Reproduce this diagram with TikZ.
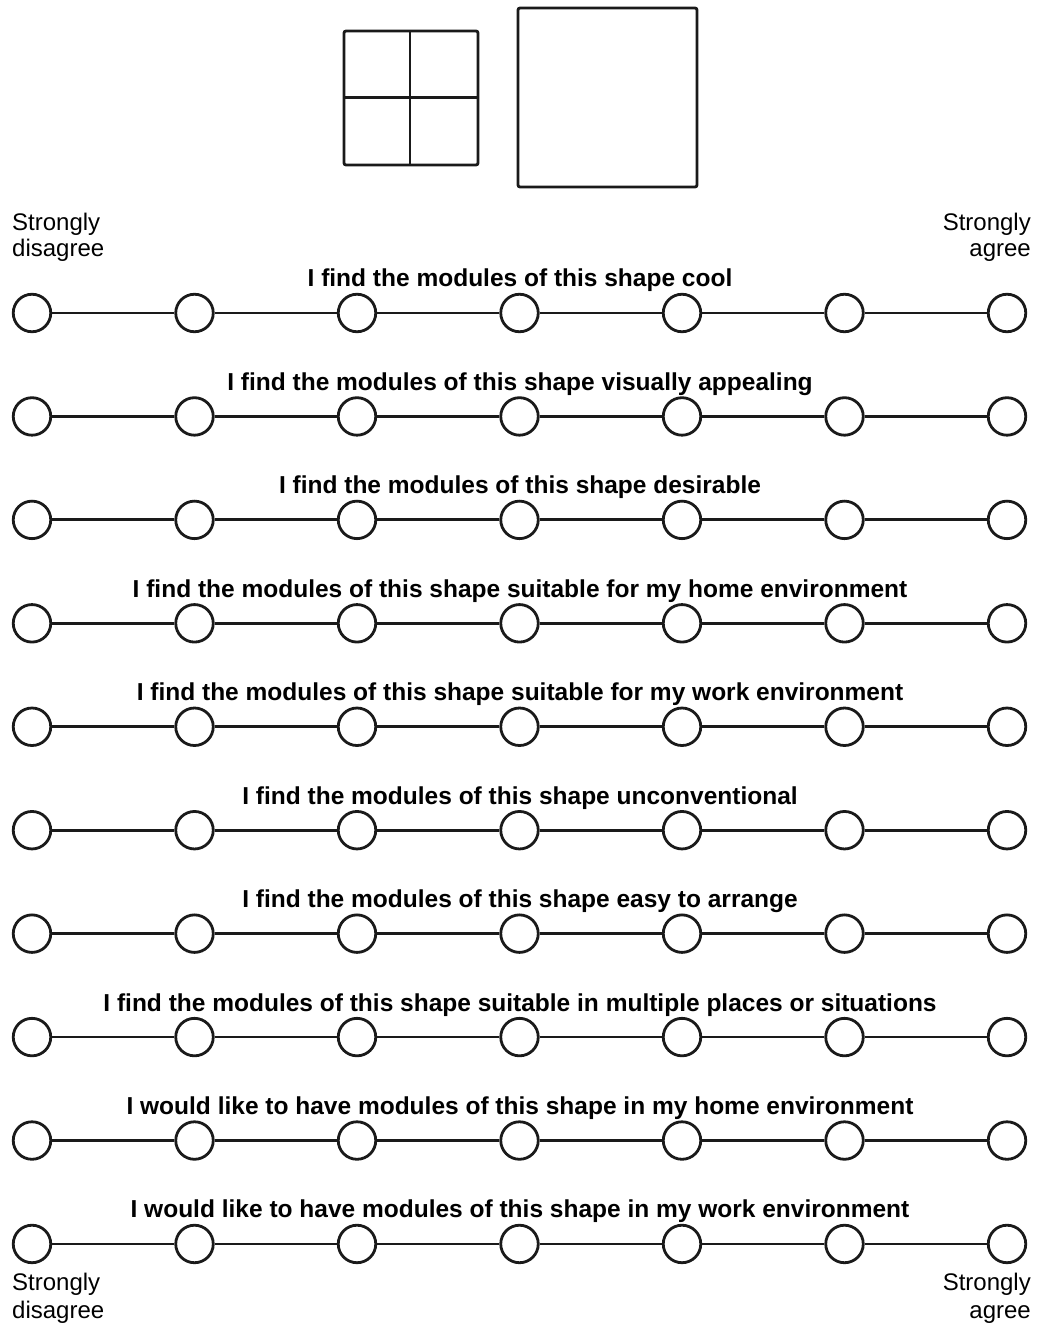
\documentclass[tikz,border=0pt]{standalone}
\usepackage{fontspec}
\setmainfont{Liberation Sans}
\definecolor{ink}{HTML}{1A1A1A}
\begin{document}
\begin{tikzpicture}[x=1pt,y=-1pt,
  dot/.style={circle,draw=ink,line width=2.8pt,minimum size=37.5pt,inner sep=0pt,fill=white},
  link/.style={draw=ink,line width=2.8pt},
  rowtitle/.style={font=\bfseries\fontsize{24.5}{28}\selectfont,anchor=base,inner sep=0pt},
  endlabel/.style={font=\fontsize{24}{28}\selectfont,inner sep=0pt},
  shapebox/.style={draw=ink,line width=2.8pt,rounded corners=2pt}]
\useasboundingbox[fill=white] (0,0) rectangle (1036,1324);
% shapes
\draw[shapebox] (344,31) rectangle (478,165);
\draw[shapebox] (410,31) -- (410,165);
\draw[shapebox] (344,97.5) -- (478,97.5);
\draw[shapebox] (518,8) rectangle (697,187);
% end labels
\node[endlabel,anchor=base west] (sdt1) at (12,231) {Strongly};
\node[endlabel,anchor=base west] (sdt2) at (12,257) {disagree};
\node[endlabel,anchor=base east] (sat1) at (1031,231) {Strongly};
\node[endlabel,anchor=base east] (sat2) at (1031,257) {agree};
\node[endlabel,anchor=base west] (sdb1) at (12,1290) {Strongly};
\node[endlabel,anchor=base west] (sdb2) at (12,1318) {disagree};
\node[endlabel,anchor=base east] (sab1) at (1031,1290) {Strongly};
\node[endlabel,anchor=base east] (sab2) at (1031,1318) {agree};
% rows
\foreach \t [count=\i] in {
  I find the modules of this shape cool,
  I find the modules of this shape visually appealing,
  I find the modules of this shape desirable,
  I find the modules of this shape suitable for my home environment,
  I find the modules of this shape suitable for my work environment,
  I find the modules of this shape unconventional,
  I find the modules of this shape easy to arrange,
  I find the modules of this shape suitable in multiple places or situations,
  I would like to have modules of this shape in my home environment,
  I would like to have modules of this shape in my work environment}{
  \pgfmathsetmacro\yy{313+103.44*(\i-1)}
  \foreach \j in {1,...,7}{
    \node[dot] (c-\i-\j) at ({32+162.5*(\j-1)},\yy) {};
  }
  \foreach \j in {1,...,6}{
    \pgfmathtruncatemacro\jn{\j+1}
    \draw[link] (c-\i-\j) -- (c-\i-\jn);
  }
  \node[rowtitle] (t-\i) at (520,\yy-26) {\t};
}
\end{tikzpicture}
\end{document}
